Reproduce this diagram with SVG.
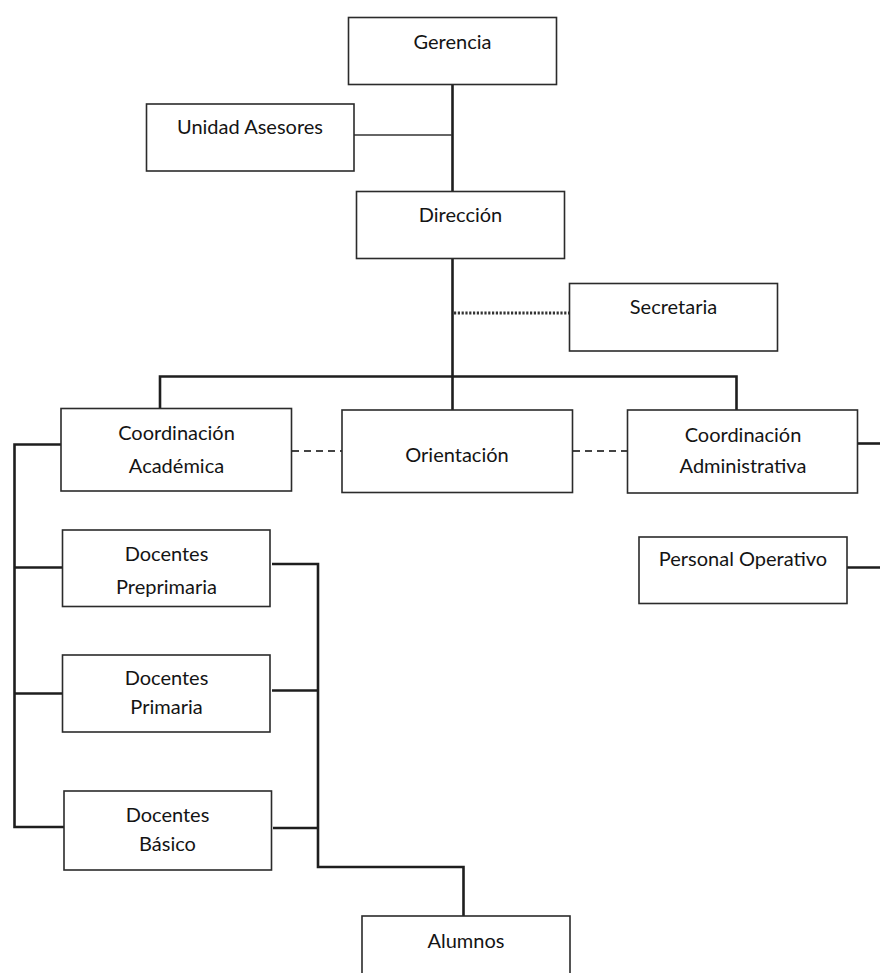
<svg xmlns="http://www.w3.org/2000/svg" width="880" height="973" viewBox="0 0 880 973">
<style>
.box{fill:#fff;stroke:#2b2b2b;stroke-width:1.6}
.t{font-family:Lato,"Open Sans",sans-serif;font-size:20px;fill:#141414;text-anchor:middle}
.ln{fill:none;stroke:#1e1e1e;stroke-width:2.6}
.thin{fill:none;stroke:#333;stroke-width:1.6}
.dot{fill:none;stroke:#333;stroke-width:3;stroke-dasharray:2.2 1.6}
.dash{fill:none;stroke:#444;stroke-width:2;stroke-dasharray:7 5}
</style>
<rect width="880" height="973" fill="#fff"/>
<g id="connectors">
<path class="ln" d="M452.5 84.5V191"/>
<path class="thin" d="M354 135H452"/>
<path class="ln" d="M452.5 258V410"/>
<path class="dot" d="M454 313H569"/>
<path class="ln" d="M160 408V376.5H736.5V410"/>
<path class="dash" d="M292 451H342"/>
<path class="dash" d="M573 451H627"/>
<path class="ln" d="M858 443.5H880"/>
<path class="ln" d="M61 444.5H14.5V827H64"/>
<path class="ln" d="M14.5 567.5H62"/>
<path class="ln" d="M14.5 693.5H62"/>
<path class="ln" d="M272 564H318V867H463.5V916"/>
<path class="ln" d="M272 690.5H318"/>
<path class="ln" d="M273 828H318"/>
<path class="ln" d="M847 567.5H880"/>
</g>
<g id="gerencia"><rect class="box" x="348.5" y="17.5" width="208" height="67"/><text class="t" x="452.5" y="49">Gerencia</text></g>
<g id="unidad-asesores"><rect class="box" x="146.5" y="104" width="207.5" height="67"/><text class="t" x="250" y="134">Unidad Asesores</text></g>
<g id="direccion"><rect class="box" x="356.5" y="191.5" width="208" height="67"/><text class="t" x="460.5" y="222">Dirección</text></g>
<g id="secretaria"><rect class="box" x="569.5" y="283.5" width="208" height="67.5"/><text class="t" x="673.5" y="314">Secretaria</text></g>
<g id="coord-academica"><rect class="box" x="61" y="408.5" width="230.5" height="82.5"/><text class="t" x="176.5" y="440">Coordinación</text><text class="t" x="176.5" y="472.5">Académica</text></g>
<g id="orientacion"><rect class="box" x="342" y="410" width="230.5" height="82.5"/><text class="t" x="457" y="461.5">Orientación</text></g>
<g id="coord-administrativa"><rect class="box" x="627.5" y="410" width="230" height="83"/><text class="t" x="743" y="441.5">Coordinación</text><text class="t" x="743" y="473">Administrativa</text></g>
<g id="docentes-preprimaria"><rect class="box" x="62.5" y="530" width="207.5" height="76.5"/><text class="t" x="166.5" y="561">Docentes</text><text class="t" x="166.5" y="594">Preprimaria</text></g>
<g id="docentes-primaria"><rect class="box" x="62.5" y="655" width="207.5" height="77"/><text class="t" x="166.5" y="684.5">Docentes</text><text class="t" x="166.5" y="714">Primaria</text></g>
<g id="docentes-basico"><rect class="box" x="64" y="791" width="207.5" height="79"/><text class="t" x="167.5" y="821.5">Docentes</text><text class="t" x="167.5" y="850.5">Básico</text></g>
<g id="personal-operativo"><rect class="box" x="639" y="537" width="208" height="66.5"/><text class="t" x="743" y="566">Personal Operativo</text></g>
<g id="alumnos"><rect class="box" x="362" y="916" width="208" height="80"/><text class="t" x="466" y="948">Alumnos</text></g>
</svg>
